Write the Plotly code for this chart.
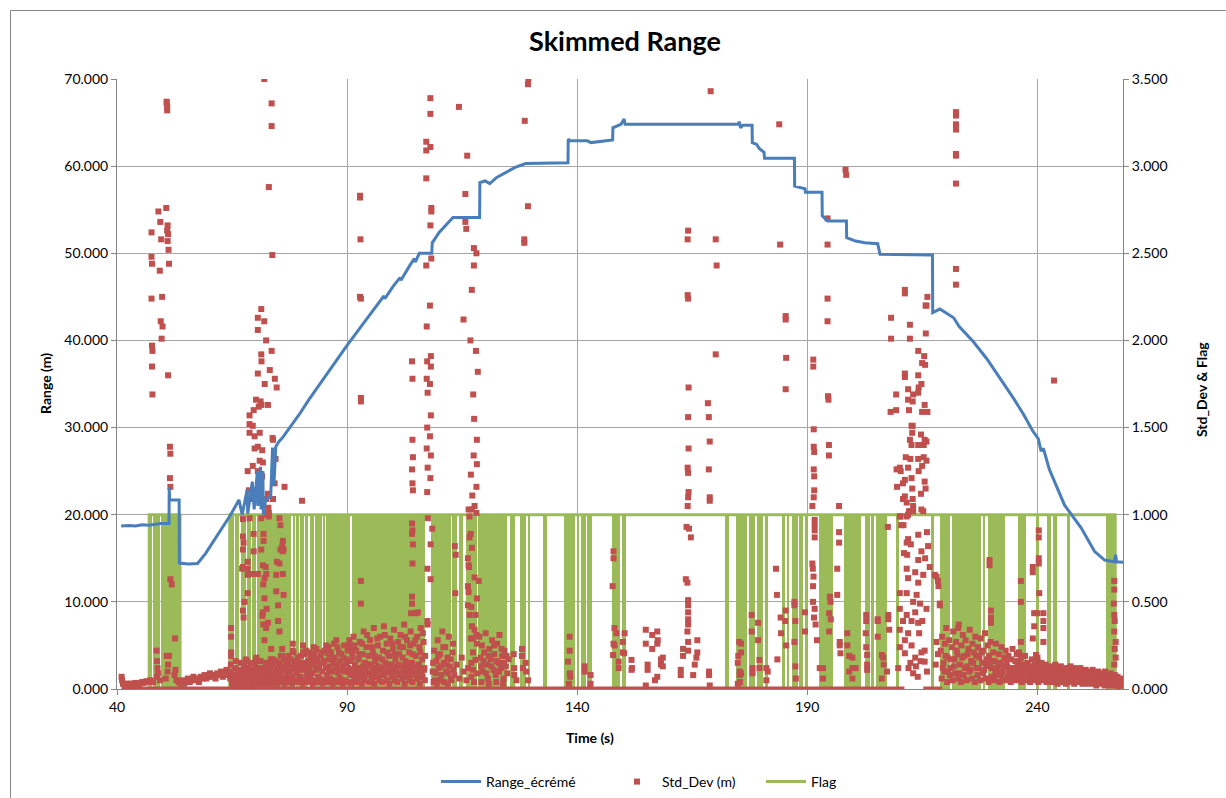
import plotly.graph_objects as go

# ---------------- data ----------------
TITLE = "Skimmed Range"
X_TICKS = [40, 90, 140, 190, 240]
X_RANGE = [40, 258.6]
RANGE_AXIS = [0, 70]
STD_AXIS = [0, 3.5]

# Range_écrémé polyline vertices (time s, range m)
RANGE_POINTS = [
    (40.9, 18.70), (42.5, 18.75), (44.0, 18.70), (45.5, 18.85), (47.0, 18.80), (48.5, 18.90),
    (49.5, 19.00), (51.3, 19.00), (51.35, 23.10), (51.45, 21.70), (53.5, 21.70), (53.55, 14.45),
    (55.5, 14.35), (57.5, 14.40), (59.3, 15.60), (62.2, 17.90), (64.7, 20.00), (66.5, 21.70),
    (67.2, 20.00), (68.3, 22.90), (68.4, 20.10), (69.4, 23.80), (69.8, 20.60), (70.5, 25.00),
    (70.6, 21.00), (71.2, 25.50), (71.3, 20.60), (71.7, 25.00), (71.8, 20.00), (72.3, 21.70),
    (73.4, 22.10), (73.8, 27.70), (74.1, 23.40), (74.5, 27.80), (75.2, 28.40), (75.9, 28.80),
    (77.4, 29.85), (79.6, 31.50), (81.7, 33.20), (85.0, 35.70), (89.8, 39.30), (95.0, 43.00),
    (98.0, 45.10), (98.2, 44.80), (100.0, 46.20), (101.5, 47.20), (101.7, 46.90), (103.5, 48.50),
    (104.6, 49.40), (104.8, 49.00), (105.7, 50.00), (108.4, 50.00), (108.5, 51.20), (110.0, 52.40),
    (111.6, 53.30), (113.0, 54.10), (118.8, 54.10), (118.85, 58.10), (120.0, 58.30), (121.0, 58.00),
    (122.5, 58.70), (124.7, 59.30), (126.5, 59.85), (128.8, 60.30), (138.0, 60.40), (138.05, 63.10),
    (138.5, 62.90), (142.2, 62.90), (143.0, 62.70), (147.7, 63.00), (147.75, 64.40), (149.5, 64.80),
    (150.2, 65.40), (150.4, 64.80), (175.0, 64.80), (175.2, 65.10), (175.5, 64.40), (176.0, 64.70),
    (178.0, 64.70), (178.05, 62.70), (179.0, 62.50), (179.6, 62.00), (180.6, 61.60), (180.7, 60.90),
    (187.2, 60.90), (187.25, 57.70), (189.5, 57.40), (189.6, 57.00), (193.2, 57.00), (193.25, 54.30),
    (194.4, 53.70), (198.5, 53.70), (198.55, 51.80), (200.5, 51.40), (202.5, 51.20), (205.3, 51.10),
    (205.8, 49.90), (217.2, 49.80), (217.25, 43.20), (218.8, 43.60), (220.5, 43.00), (221.8, 42.60),
    (223.0, 41.60), (226.0, 39.90), (229.0, 37.90), (232.0, 35.60), (235.0, 33.20), (237.0, 31.50),
    (239.0, 29.60), (240.2, 28.70), (240.8, 27.30), (241.3, 27.60), (242.6, 25.20), (245.9, 21.10),
    (249.5, 18.50), (252.4, 15.80), (254.6, 14.80), (256.7, 14.60), (257.0, 15.40), (257.2, 14.60),
    (258.9, 14.55),
]

# Flag: steady state changes (time, value)
FLAG_CHANGES = [(41.0, 0), (47.0, 1), (53.7, 0), (64.5, 1), (256.9, 0), (258.9, 0)]

# Flag: periods of rapid 0/1 toggling (start, end)
FLAG_TOGGLE_BLOCKS = [
    (47.0, 47.6), (47.8, 49.3), (49.6, 53.7),
    (64.5, 65.4), (65.7, 66.6), (66.9, 68.0), (68.3, 69.1), (69.4, 70.2), (70.5, 77.9),
    (78.2, 78.7), (79.0, 79.5), (79.8, 80.6), (80.9, 81.6), (81.9, 82.7), (83.0, 84.5),
    (84.8, 85.1), (85.4, 90.7), (91.0, 107.0), (108.2, 112.5), (112.9, 113.8), (114.3, 115.1),
    (115.8, 118.2), (118.5, 124.8), (125.4, 126.5), (127.5, 128.8), (129.4, 129.8), (132.6, 133.4),
    (137.2, 139.5), (139.9, 140.4), (140.9, 141.9), (142.2, 143.3), (147.5, 149.3), (149.7, 150.6),
    (172.2, 172.9), (174.6, 177.0), (177.4, 178.7), (179.1, 180.3), (180.7, 181.5), (184.6, 185.1),
    (185.5, 186.1), (186.6, 187.9), (188.3, 189.0), (189.5, 190.1), (192.6, 195.5), (198.0, 201.7),
    (202.5, 203.6), (203.8, 204.6), (205.0, 205.7), (205.9, 207.4), (209.3, 210.0), (216.9, 217.6),
    (218.8, 220.9), (221.4, 227.7), (228.1, 228.6), (229.2, 233.0), (235.7, 237.5), (239.7, 240.4),
    (242.1, 243.0), (243.3, 244.3), (246.4, 247.0), (254.9, 256.9),
]

# Std_Dev samples that sit exactly at 0 (runs of time)
STD_ZERO_RUNS = [(41.0, 211.1), (215.2, 219.3)]

# Std_Dev (m) samples (time, value)
STD_START = [
    (41.0, .07), (41.1, .05), (41.3, .03), (41.6, .03), (41.9, .025), (42.2, .03), (42.5, .025),
    (42.8, .03), (43.1, .03), (43.4, .02), (43.7, .03), (44.0, .035), (44.3, .03), (44.6, .025),
    (44.9, .03), (45.2, .035), (45.5, .04), (45.8, .035), (46.1, .04), (46.4, .045), (46.7, .04),
    (47.5, 2.62), (47.5, 2.48), (47.6, 2.44), (47.5, 2.24), (47.6, 1.97), (47.7, 1.94), (47.6, 1.85),
    (47.7, 1.69), (49.0, 2.74), (49.4, 2.68), (49.6, 2.58), (49.3, 2.40), (49.8, 2.25), (49.5, 2.11),
    (49.9, 2.08), (49.7, 2.01), (50.8, 3.37), (50.8, 3.36), (50.9, 3.34), (50.9, 3.32), (50.7, 2.76),
    (51.0, 2.66), (50.9, 2.63), (51.1, 2.61), (51.0, 2.57), (51.2, 2.52), (51.3, 2.44), (51.1, 1.80),
    (51.5, 1.39), (51.6, 1.35), (51.5, 1.21), (51.6, 1.16), (51.6, 0.63), (51.9, 0.60), (52.6, 0.29),
    (52.5, 0.08), (48.6, 0.22), (48.7, 0.16), (48.8, 0.12), (48.9, 0.09), (48.7, 0.07), (50.8, 0.19),
    (51.3, 0.19), (51.1, 0.14), (51.0, 0.10), (50.6, 0.06), (49.3, 0.05), (52.7, 0.11), (52.9, 0.05),
    (47.2, 0.05), (47.8, 0.04), (53.4, 0.04),
    (53.8, .03), (54.2, .05), (54.6, .03), (55.0, .04), (55.4, .06), (55.8, .04), (56.2, .05),
    (56.6, .07), (57.0, .05), (57.4, .06), (57.8, .04), (58.2, .07), (58.6, .06), (59.0, .08),
    (59.4, .06), (59.8, .07), (60.2, .09), (60.6, .07), (61.0, .08), (61.4, .06), (61.8, .09),
    (62.2, .08), (62.6, .10), (63.0, .07), (63.4, .09), (63.8, .11), (64.2, .08),
]

STD_SPIKE_72 = [
    (72.0, 3.50), (73.6, 3.36), (73.6, 3.23), (73.0, 2.88), (73.75, 2.49), (71.35, 2.18), (70.6, 2.13),
    (72.0, 2.11), (70.6, 2.06), (72.4, 2.00), (71.35, 1.92), (73.6, 1.94), (71.4, 1.88), (73.2, 1.83),
    (70.6, 1.81), (72.1, 1.75), (74.3, 1.78), (74.7, 1.73), (70.2, 1.66), (71.4, 1.63), (72.8, 1.63),
    (68.8, 1.57), (69.7, 1.60), (70.8, 1.62), (71.2, 1.65), (68.8, 1.52), (69.5, 1.51), (68.8, 1.47),
    (71.0, 1.47), (69.9, 1.45), (70.6, 1.39), (69.9, 1.38), (71.55, 1.37), (71.0, 1.31), (71.7, 1.30),
    (69.5, 1.28), (68.4, 1.25), (70.6, 1.25), (71.55, 1.22), (68.65, 1.14), (69.9, 1.14), (71.0, 1.15),
    (72.8, 1.12), (68.4, 1.09), (69.5, 1.09), (72.45, 1.09), (73.9, 1.09), (74.45, 1.32), (73.9, 1.43),
    (73.8, 1.44), (74.25, 1.18), (76.4, 1.16), (80.2, 1.08), (72.8, 1.01), (67.35, 0.975),
    (68.8, 0.98), (71.35, 0.98), (73.0, 0.99), (75.3, 0.98), (67.35, 0.875), (67.5, 0.84), (69.7, 0.89),
    (71.85, 0.89), (67.35, 0.80), (69.7, 0.79), (71.85, 0.85), (76.05, 0.85), (76.2, 0.80), (68.4, 0.73),
    (68.4, 0.69), (71.7, 0.71), (72.3, 0.70), (74.75, 0.73), (75.3, 0.72), (67.2, 0.69), (68.8, 0.66),
    (69.9, 0.66), (70.6, 0.66), (72.45, 0.66), (74.6, 0.655), (76.05, 0.66), (67.35, 0.70),
    (68.4, 0.655), (68.4, 0.55), (67.7, 0.50), (67.35, 0.45), (67.5, 0.41), (64.8, 0.35), (64.8, 0.30),
    (64.8, 0.21), (64.8, 0.19), (71.35, 0.80), (72.05, 0.636), (71.8, 0.60), (72.05, 0.52), (71.7, 0.44),
    (71.6, 0.42), (72.5, 0.46), (72.8, 0.38), (71.8, 0.37), (72.4, 0.35), (72.05, 0.28), (73.0, 1.01),
    (72.9, 1.04), (72.6, 1.00), (75.5, 0.94), (75.9, 0.82), (75.5, 0.80), (76.0, 0.79), (74.6, 0.56),
    (76.2, 0.54), (75.0, 0.48), (75.0, 0.39), (75.3, 0.33), (73.5, 0.23), (75.9, 0.23), (76.0, 0.19),
    (73.9, 0.17), (73.5, 0.16), (67.0, 0.15), (68.2, 0.16), (70.3, 0.18), (70.4, 0.16), (78.2, 0.26),
    (78.2, 0.22), (80.4, 0.25), (80.4, 0.21), (81.85, 0.21), (83.3, 0.23), (85.8, 0.205), (86.0, 0.24),
    (87.65, 0.28), (90.5, 0.28), (90.7, 0.24), (91.0, 0.23),
    (92.8, 2.83), (92.8, 2.82), (92.9, 2.58), (92.8, 2.25), (93.0, 2.24), (93.0, 1.67), (93.0, 1.65),
    (93.0, 0.62), (93.0, 0.49),
]

STD_BAND_65_90 = [
    (64.6, .06), (64.9, .10), (65.1, .04), (65.4, .08), (65.7, .12), (65.9, .05), (66.2, .09),
    (66.5, .07), (66.8, .11), (67.0, .05), (67.3, .09), (67.6, .13), (67.8, .06), (68.1, .10),
    (68.4, .08), (68.6, .12), (68.9, .05), (69.2, .09), (69.5, .11), (69.7, .07), (70.0, .13),
    (70.3, .09), (70.5, .06), (70.8, .11), (71.1, .08), (71.4, .12), (71.6, .05), (71.9, .10),
    (72.2, .07), (72.5, .13), (72.7, .09), (73.0, .06), (73.3, .11), (73.6, .08), (73.8, .14),
    (74.1, .06), (74.4, .10), (74.7, .12), (74.9, .07), (75.2, .15), (75.5, .09), (75.8, .12),
    (76.0, .06), (76.3, .17), (76.6, .11), (76.9, .08), (77.1, .14), (77.4, .19), (77.7, .10),
    (78.0, .13), (78.2, .07), (78.5, .16), (78.8, .12), (79.1, .09), (79.3, .18), (79.6, .13),
    (79.9, .07), (80.2, .15), (80.4, .11), (80.7, .20), (81.0, .13), (81.3, .08), (81.5, .16),
    (81.8, .12), (82.1, .18), (82.4, .09), (82.6, .14), (82.9, .20), (83.2, .11), (83.5, .16),
    (83.7, .07), (84.0, .13), (84.3, .19), (84.6, .10), (84.8, .15), (85.1, .22), (85.4, .12),
    (85.7, .08), (85.9, .17), (86.2, .13), (86.5, .21), (86.8, .10), (87.0, .15), (87.3, .18),
    (87.6, .12), (87.9, .24), (88.1, .09), (88.4, .16), (88.7, .20), (89.0, .13), (89.2, .18),
    (89.5, .10), (89.8, .15), (90.1, .22),
    (65.0, .03), (65.5, .02), (66.0, .03), (66.6, .02), (67.1, .03), (67.7, .02), (68.3, .04),
    (68.8, .03), (69.4, .02), (69.9, .04), (70.4, .03), (71.0, .05), (71.5, .03), (72.0, .04),
    (72.6, .03), (73.1, .05), (73.7, .03), (74.2, .04), (74.8, .03), (75.3, .05), (75.9, .04),
    (76.4, .03), (77.0, .05), (77.5, .04), (78.1, .03), (78.6, .05), (79.2, .04), (79.7, .06),
    (80.3, .03), (80.8, .05), (81.4, .04), (81.9, .06), (82.5, .03), (83.0, .05), (83.6, .04),
    (84.1, .06), (84.7, .03), (85.2, .05), (85.8, .04), (86.3, .06), (86.9, .03), (87.4, .05),
    (88.0, .04), (88.5, .06), (89.1, .03), (89.6, .05),
    (64.75, .14), (65.25, .07), (65.8, .16), (66.35, .10), (66.9, .15), (67.45, .08), (68.0, .17),
    (68.55, .11), (69.05, .15), (69.6, .09), (70.15, .17), (70.65, .12), (71.2, .16), (71.75, .09),
    (72.3, .15), (72.85, .12), (73.4, .17), (73.95, .10), (74.5, .16), (75.05, .11), (75.6, .19),
    (76.15, .13), (76.7, .16), (77.25, .10), (77.8, .17), (78.35, .21), (78.9, .15), (79.45, .11),
    (80.0, .19), (80.55, .14), (81.1, .22), (81.65, .10), (82.2, .15), (82.75, .24), (83.3, .17),
    (83.85, .12), (84.4, .21), (84.95, .16), (85.5, .25), (86.05, .11), (86.6, .18), (87.15, .26),
    (87.7, .14), (88.25, .21), (88.8, .11), (89.35, .25), (89.9, .17),
]

STD_BAND_90_107 = [
    (90.3, .12), (90.6, .25), (90.9, .08), (91.2, .18), (91.4, .30), (91.7, .14), (92.0, .22),
    (92.3, .06), (92.5, .17), (92.8, .27), (93.1, .11), (93.4, .20), (93.6, .33), (93.9, .15),
    (94.2, .24), (94.5, .09), (94.7, .19), (95.0, .28), (95.3, .13), (95.6, .21), (95.8, .35),
    (96.1, .16), (96.4, .07), (96.7, .25), (96.9, .18), (97.2, .30), (97.5, .12), (97.8, .22),
    (98.0, .36), (98.3, .15), (98.6, .26), (98.9, .10), (99.1, .19), (99.4, .29), (99.7, .14),
    (100.0, .23), (100.2, .34), (100.5, .17), (100.8, .08), (101.1, .27), (101.3, .20), (101.6, .31),
    (101.9, .13), (102.2, .24), (102.4, .37), (102.7, .16), (103.0, .28), (103.3, .11), (103.5, .21),
    (103.8, .33), (104.1, .15), (104.4, .26), (104.6, .09), (104.9, .19), (105.2, .30), (105.5, .14),
    (105.7, .24), (106.0, .35), (106.3, .17), (106.6, .27), (106.8, .12),
    (90.4, .04), (90.9, .03), (91.5, .06), (92.0, .04), (92.6, .07), (93.2, .03), (93.7, .05),
    (94.3, .08), (94.8, .04), (95.4, .06), (95.9, .03), (96.5, .07), (97.0, .05), (97.6, .04),
    (98.1, .08), (98.7, .05), (99.2, .03), (99.8, .07), (100.3, .05), (100.9, .04), (101.4, .08),
    (102.0, .06), (102.5, .03), (103.1, .07), (103.6, .05), (104.2, .04), (104.7, .08), (105.3, .06),
    (105.8, .03), (106.4, .07), (106.9, .05),
    (90.75, .16), (91.05, .21), (91.6, .25), (92.15, .12), (92.7, .20), (93.25, .26), (93.8, .10),
    (94.35, .31), (94.9, .14), (95.45, .24), (96.0, .19), (96.55, .29), (97.1, .10), (97.65, .17),
    (98.2, .31), (98.75, .21), (99.3, .12), (99.85, .26), (100.4, .20), (100.95, .13), (101.5, .24),
    (102.05, .18), (102.6, .30), (103.15, .15), (103.7, .25), (104.25, .20), (104.8, .28), (105.35, .11),
    (105.9, .21), (106.45, .32), (106.95, .19),
    (90.55, .09), (91.1, .11), (91.85, .09), (92.4, .12), (93.0, .08), (93.5, .13), (94.05, .11),
    (94.6, .14), (95.15, .09), (95.7, .12), (96.25, .10), (96.8, .13), (97.35, .08), (97.9, .12),
    (98.45, .10), (99.0, .14), (99.55, .09), (100.1, .12), (100.65, .11), (101.2, .14), (101.75, .09),
    (102.3, .12), (102.85, .10), (103.4, .14), (103.95, .08), (104.5, .12), (105.05, .10), (105.6, .13),
    (106.15, .09), (106.7, .11),
    (104.1, 0.89), (104.1, 0.53), (104.1, 0.49), (103.9, 0.435), (105.0, 0.435), (105.4, 0.44),
    (104.1, 1.88), (104.2, 1.78), (104.2, 1.43), (104.3, 1.33), (104.1, 1.26), (104.2, 1.18),
    (104.3, 1.14), (104.1, 0.95), (104.2, 0.91), (104.3, 0.83), (104.2, 0.72),
]

STD_SPIKE_108_118 = [
    (108.1, 3.39), (108.1, 3.30), (107.2, 3.14), (108.1, 3.11), (107.2, 3.09), (107.2, 2.93),
    (108.3, 2.76), (108.3, 2.74), (108.1, 2.66), (108.3, 2.47), (107.2, 2.43), (108.0, 2.20),
    (107.3, 2.08), (108.2, 1.91), (107.4, 1.88), (108.2, 1.85), (107.3, 1.78), (108.0, 1.75),
    (107.5, 1.70), (108.2, 1.57), (107.4, 1.50), (108.0, 1.45), (107.3, 1.38), (108.2, 1.34),
    (107.5, 1.27), (108.1, 1.21), (107.4, 1.13), (107.55, 0.98), (108.5, 0.92), (108.15, 0.83),
    (107.45, 0.69), (108.15, 0.63), (107.45, 0.39), (107.5, 0.37),
    (113.4, 0.82), (113.6, 0.77), (113.5, 0.55),
    (114.3, 3.34), (116.1, 3.06), (115.7, 2.84), (115.7, 2.68), (115.9, 2.64), (117.55, 2.53),
    (118.1, 2.50), (117.55, 2.43), (117.1, 2.29), (115.3, 2.12), (116.8, 2.00), (118.0, 1.94),
    (118.4, 1.82), (117.4, 1.69), (117.6, 1.55), (118.2, 1.43), (117.5, 1.34), (118.2, 1.29),
    (116.9, 1.23), (118.1, 1.16), (117.2, 1.11), (116.4, 1.03), (117.1, 1.03), (118.1, 1.01),
    (117.7, 1.05), (116.6, 0.99), (116.85, 0.89), (116.6, 0.87), (117.1, 0.81), (116.25, 0.75),
    (116.4, 0.71), (116.5, 0.70), (117.7, 0.64), (118.6, 0.62), (116.25, 0.59), (116.4, 0.556),
    (118.2, 0.52), (116.25, 0.48), (117.0, 0.47), (116.6, 0.425), (117.9, 0.425), (117.1, 0.36),
    (117.7, 0.34), (118.1, 0.31), (116.85, 0.29), (117.3, 0.29), (118.2, 0.26), (117.35, 0.21),
    (117.9, 0.167), (117.0, 0.15), (117.35, 0.11),
    (128.6, 3.26), (129.4, 3.50), (129.3, 3.47), (129.3, 2.77), (128.5, 2.58), (128.5, 2.56),
]

STD_BAND_108_131 = [
    (108.6, .10), (108.9, .22), (109.1, .05), (109.4, .16), (109.7, .28), (109.9, .12), (110.2, .20),
    (110.5, .08), (110.7, .33), (111.0, .15), (111.3, .24), (111.5, .10), (111.8, .18), (112.1, .30),
    (112.3, .13), (112.6, .06), (112.9, .21), (113.1, .11), (108.8, .04), (109.5, .03), (110.3, .05),
    (111.1, .04), (111.9, .03), (112.7, .05),
    (108.7, .15), (109.25, .09), (109.8, .19), (110.35, .13), (110.9, .24), (111.45, .14), (112.0, .09),
    (112.5, .17), (113.0, .26),
    (113.3, .08), (113.8, .14), (114.4, .06), (114.9, .18), (115.3, .10), (115.9, .05), (116.3, .12),
    (117.0, .07), (117.6, .04), (118.3, .09),
    (118.7, .30), (119.0, .18), (119.3, .25), (119.5, .10), (119.8, .21), (120.1, .32), (120.4, .14),
    (120.6, .06), (120.9, .23), (121.2, .17), (121.5, .28), (121.8, .11), (122.0, .20), (122.3, .08),
    (122.6, .26), (122.9, .15), (123.1, .31), (123.4, .12), (123.7, .19), (124.0, .06), (124.2, .22),
    (124.5, .13), (124.8, .09), (125.1, .17), (119.2, .04), (120.8, .03), (122.4, .04), (123.9, .03),
    (119.15, .13), (119.65, .16), (120.25, .09), (120.75, .19), (121.35, .13), (121.95, .25),
    (122.5, .16), (123.0, .10), (123.55, .23), (124.1, .15), (124.65, .19),
    (126.2, 0.20), (126.3, 0.12), (126.3, 0.08), (128.0, 0.23), (128.0, 0.19), (128.2, 0.12),
    (128.8, 0.15), (128.9, 0.10), (129.3, 0.05), (126.8, 0.05),
]

STD_MIDDLE = [
    (138.35, 0.30), (138.35, 0.22), (138.0, 0.157), (138.4, 0.09), (138.5, 0.07), (138.2, 0.03),
    (141.6, 0.13), (141.6, 0.10), (142.9, 0.08), (142.9, 0.03), (148.1, 0.35), (148.5, 0.32),
    (148.1, 0.25), (150.3, 0.32), (150.2, 0.205), (149.0, 0.157), (149.0, 0.12), (147.8, 0.195),
    (147.9, 0.26), (151.8, 0.167), (151.8, 0.11), (147.9, 0.79), (147.9, 0.75), (147.7, 0.59),
    (149.95, 0.27), (149.95, 0.21), (151.9, 0.12),
    (154.9, 0.34), (154.9, 0.26), (156.3, 0.31), (156.3, 0.23), (157.4, 0.33), (157.5, 0.28),
    (157.4, 0.26), (158.2, 0.17), (158.2, 0.14), (155.3, 0.14), (155.3, 0.11), (157.4, 0.07),
    (156.9, 0.05), (154.9, 0.02), (158.6, 0.18), (158.6, 0.13),
    (164.1, 2.63), (164.0, 2.58), (164.0, 2.26), (164.1, 2.24), (164.2, 1.73), (164.1, 1.56),
    (164.2, 1.38), (164.0, 1.27), (164.1, 1.24), (164.2, 1.13), (164.1, 1.10), (164.0, 1.05),
    (163.75, 0.93), (164.3, 0.92), (164.7, 0.87), (163.95, 0.61), (164.1, 0.51), (164.1, 0.48),
    (164.1, 0.44), (164.1, 0.40), (164.1, 0.37), (163.95, 0.33), (164.1, 0.27), (163.0, 0.23),
    (164.1, 0.22), (163.0, 0.19), (166.1, 0.28), (166.1, 0.21), (165.9, 0.18), (165.55, 0.14),
    (162.5, 0.11), (162.5, 0.08), (165.2, 0.08), (163.6, 0.63),
    (169.0, 3.43), (170.1, 2.58), (170.3, 2.43), (170.1, 1.92), (168.4, 1.64), (168.6, 1.56),
    (168.8, 1.42), (168.6, 1.26), (168.8, 1.10), (168.8, 1.08), (168.65, 0.10), (168.65, 0.08),
    (168.8, 0.02),
    (175.6, 0.26), (175.2, 0.27), (175.6, 0.21), (175.0, 0.19), (174.9, 0.15), (175.3, 0.10),
    (175.3, 0.08), (174.9, 0.03), (175.6, 0.09), (175.4, 0.04),
    (177.9, 0.425), (177.9, 0.33), (179.3, 0.38), (179.3, 0.28), (179.6, 0.167), (179.6, 0.12),
    (178.1, 0.12), (178.1, 0.09), (181.1, 0.12), (181.4, 0.10), (181.1, 0.05),
    (183.2, 0.69), (183.4, 0.54), (184.2, 0.41), (184.3, 0.32), (183.5, 0.17), (185.3, 0.45),
    (185.2, 0.39), (187.2, 0.50), (187.2, 0.48), (187.4, 0.39), (187.2, 0.27), (185.4, 0.25),
    (187.4, 0.13), (187.5, 0.06), (183.9, 3.24), (184.1, 2.55), (185.3, 2.14), (185.3, 2.12),
    (185.4, 1.90), (185.3, 1.72),
    (189.5, 0.44), (189.5, 0.33), (191.1, 1.05), (191.6, 0.97), (191.6, 0.94), (191.6, 0.91),
    (191.6, 0.87), (191.1, 0.72), (191.2, 0.69), (191.35, 0.645), (191.25, 0.59), (191.25, 0.50),
    (191.6, 0.46), (191.45, 0.41), (191.8, 0.37), (192.1, 0.28), (192.7, 0.12), (193.4, 0.12),
    (193.4, 0.06), (191.3, 1.89), (191.3, 1.85), (191.4, 1.49), (191.4, 1.39), (191.5, 1.36),
    (191.4, 1.26), (191.5, 1.22), (191.5, 1.14), (191.4, 1.10),
    (194.4, 2.70), (194.4, 2.55), (194.4, 2.24), (194.4, 2.11), (194.5, 1.68), (194.6, 1.66),
    (194.7, 1.40), (194.7, 1.34), (194.9, 0.53), (195.05, 0.50), (194.75, 0.435), (195.1, 0.40),
    (194.75, 0.33), (196.5, 0.69), (196.5, 0.54), (196.9, 0.90), (196.9, 0.84), (196.9, 1.05),
    (197.05, 0.27), (197.05, 0.25), (197.2, 0.205),
    (198.3, 2.98), (198.45, 2.95), (198.7, 0.32), (198.7, 0.25), (199.1, 0.19), (199.8, 0.18),
    (199.8, 0.12), (200.5, 0.12), (199.1, 0.10), (199.8, 0.06), (202.8, 0.425), (202.8, 0.39),
    (202.7, 0.32), (202.8, 0.24), (203.0, 0.195), (203.0, 0.14), (203.0, 0.11), (205.3, 0.39),
    (205.3, 0.30),
    (205.3, 0.40), (207.6, 0.425), (207.6, 0.40), (207.8, 0.34), (206.2, 0.195), (206.5, 0.18),
    (206.6, 0.14), (207.3, 0.10), (206.2, 0.06), (207.5, 0.93), (208.2, 2.13), (208.2, 2.01),
    (208.1, 1.59), (209.3, 1.69), (209.3, 1.60), (209.4, 1.26), (209.5, 1.16),
]

STD_CLUSTER_212 = [
    (211.2, 2.29), (211.2, 2.27), (216.1, 2.25), (215.7, 2.20), (215.9, 2.20), (212.3, 2.09),
    (212.3, 2.01), (215.75, 2.04), (214.1, 1.94), (215.4, 1.91), (214.95, 1.87), (215.6, 1.86),
    (211.2, 1.81), (211.2, 1.79), (214.1, 1.80), (214.8, 1.75), (211.9, 1.72), (214.2, 1.73),
    (213.0, 1.69), (214.1, 1.70), (211.9, 1.66), (212.9, 1.65), (215.5, 1.63), (212.1, 1.60),
    (214.95, 1.59), (216.1, 1.59), (212.65, 1.51), (212.9, 1.51), (212.8, 1.47), (214.7, 1.46),
    (212.3, 1.43), (215.5, 1.43), (215.9, 1.42), (212.65, 1.40), (214.1, 1.40), (215.3, 1.40),
    (211.4, 1.33), (212.4, 1.32), (214.1, 1.32), (215.3, 1.33), (215.9, 1.31), (214.95, 1.28),
    (210.1, 1.27), (210.3, 1.25), (211.9, 1.27), (214.2, 1.25), (211.2, 1.20), (210.8, 1.18),
    (212.65, 1.21), (215.5, 1.19), (212.8, 1.15), (214.7, 1.12), (215.7, 1.15), (211.2, 1.105),
    (210.8, 1.09), (212.9, 1.09), (211.6, 1.07), (213.0, 1.05), (214.8, 1.03), (212.1, 1.02),
    (212.5, 1.02), (210.25, 0.99), (211.6, 0.99), (210.1, 0.99), (211.9, 1.00), (213.0, 1.02),
    (215.2, 1.02), (210.4, 0.94), (210.9, 0.94), (216.0, 0.90), (214.1, 0.885), (211.9, 0.86),
    (211.6, 0.84), (212.5, 0.83), (216.25, 0.82), (211.0, 0.78), (211.7, 0.77), (214.8, 0.79),
    (214.1, 0.74), (215.6, 0.75), (216.6, 0.70), (211.6, 0.69), (213.45, 0.67), (215.2, 0.655),
    (211.9, 0.636), (214.1, 0.61), (210.1, 0.55), (211.6, 0.55), (213.75, 0.54), (213.0, 0.50),
    (214.5, 0.49), (210.1, 0.46), (215.9, 0.46), (211.6, 0.425), (213.45, 0.44), (210.8, 0.39),
    (212.65, 0.39), (214.1, 0.38), (215.0, 0.39), (210.1, 0.34), (211.9, 0.32), (214.3, 0.32),
    (211.2, 0.28), (210.1, 0.24), (212.65, 0.25), (214.8, 0.21), (215.5, 0.22), (211.2, 0.205),
    (213.45, 0.18), (209.75, 0.12), (215.5, 0.157), (212.0, 0.12), (213.0, 0.09), (214.0, 0.07),
    (216.0, 0.10), (212.4, 0.15), (213.6, 0.13), (214.6, 0.16),
    (217.7, 0.655), (218.4, 0.62), (218.5, 0.59), (218.8, 0.48), (218.1, 0.27), (218.4, 0.20),
    (217.9, 0.14), (218.1, 0.645),
]

STD_BAND_218_258 = [
    (219.0, .22), (219.3, .30), (219.6, .15), (219.9, .26), (220.2, .35), (220.5, .18), (220.8, .28),
    (221.1, .12), (221.4, .24), (221.7, .33), (222.0, .17), (222.3, .27), (222.6, .20), (222.9, .37),
    (223.2, .14), (223.5, .25), (223.8, .31), (224.1, .19), (224.4, .28), (224.7, .13), (225.0, .23),
    (225.3, .34), (225.6, .16), (225.9, .26), (226.2, .21), (226.5, .30), (226.8, .12), (227.1, .24),
    (227.4, .18), (227.7, .29), (228.0, .15), (228.3, .22), (228.6, .32), (228.9, .14), (229.2, .25),
    (229.5, .19), (229.8, .27), (230.1, .12), (230.4, .21), (230.7, .16), (231.0, .26), (231.3, .11),
    (231.6, .20), (231.9, .15), (232.2, .24), (232.5, .10), (232.8, .18), (233.1, .22), (233.4, .13),
    (233.7, .19), (234.0, .09), (234.3, .17), (234.6, .23), (234.9, .12), (235.2, .16), (235.5, .20),
    (235.8, .10), (236.1, .15), (236.4, .18), (236.7, .09), (237.0, .14), (237.3, .19), (237.6, .11),
    (237.9, .15), (238.2, .08), (238.5, .13), (238.8, .17), (239.1, .10), (239.4, .14), (239.7, .12),
    (240.0, .16), (240.3, .09), (240.6, .13), (240.9, .15), (241.2, .10), (241.5, .12), (241.8, .14),
    (242.1, .08), (242.4, .12), (242.7, .10), (243.0, .13), (243.3, .07), (243.6, .11), (243.9, .14),
    (244.2, .09), (244.5, .12), (244.8, .10), (245.1, .13), (245.4, .07), (245.7, .11), (246.0, .09),
    (246.3, .12), (246.6, .08), (246.9, .11), (247.2, .13), (247.5, .07), (247.8, .10), (248.1, .12),
    (248.4, .08), (248.7, .11), (249.0, .09), (249.3, .12), (249.6, .07), (249.9, .10), (250.2, .08),
    (250.5, .11), (250.8, .09), (251.1, .06), (251.4, .10), (251.7, .08), (252.0, .11), (252.3, .07),
    (252.6, .09), (252.9, .06), (253.2, .10), (253.5, .08), (253.8, .05), (254.1, .09), (254.4, .07),
    (254.7, .10), (255.0, .06), (255.3, .08), (255.6, .05), (255.9, .09), (256.2, .07), (256.5, .04),
    (256.8, .08), (257.1, .05), (257.4, .07), (257.7, .03), (258.0, .06), (258.3, .04),
    (219.2, .06), (219.8, .10), (220.4, .04), (221.0, .08), (221.6, .05), (222.2, .09), (222.8, .06),
    (223.4, .04), (224.0, .08), (224.6, .05), (225.2, .10), (225.8, .06), (226.4, .04), (227.0, .08),
    (227.6, .05), (228.2, .09), (228.8, .06), (229.4, .04), (230.0, .07), (230.6, .05), (231.2, .08),
    (231.8, .04), (232.4, .06), (233.0, .05), (233.6, .07), (234.2, .04), (234.8, .06), (235.4, .05),
    (236.0, .07), (236.6, .04), (237.2, .06), (237.8, .05), (238.4, .04), (239.0, .06), (239.6, .05),
    (240.2, .04), (240.8, .06), (241.4, .05), (242.0, .04), (242.6, .05), (243.2, .04), (243.8, .05),
    (244.4, .03), (245.0, .05), (245.6, .04), (246.2, .03), (246.8, .05), (247.4, .04), (248.0, .03),
    (248.6, .05), (249.2, .04), (249.8, .03), (250.4, .04), (251.0, .03), (251.6, .04), (252.2, .03),
    (252.8, .02), (253.4, .04), (254.0, .03), (254.6, .02), (255.2, .03), (255.8, .02), (256.4, .03),
    (257.0, .02), (257.6, .01), (258.2, .02),
    (219.45, .12), (220.05, .19), (220.65, .10), (221.25, .17), (221.85, .13), (222.45, .22),
    (223.05, .09), (223.65, .18), (224.25, .12), (224.85, .20), (225.45, .11), (226.05, .15),
    (226.65, .19), (227.25, .12), (227.85, .21), (228.45, .11), (229.05, .17), (229.65, .13),
    (230.25, .16), (230.85, .10), (231.45, .14), (232.05, .09), (232.65, .13), (233.25, .16),
    (233.85, .10), (234.45, .12), (235.05, .09), (235.65, .13), (236.25, .11), (236.85, .08),
    (237.45, .12), (238.05, .10), (238.65, .09), (239.25, .11), (239.85, .08), (240.45, .10),
    (241.05, .08), (241.65, .09), (242.25, .07), (242.85, .08), (243.45, .09), (244.05, .07),
    (244.65, .08), (245.25, .09), (245.85, .06), (246.45, .08), (247.05, .07), (247.65, .08),
    (248.25, .06), (248.85, .07), (249.45, .06), (250.05, .07), (250.65, .05), (251.25, .07),
    (251.85, .05), (252.45, .06), (253.05, .05), (253.65, .06), (254.25, .05), (254.85, .06),
    (255.45, .04), (256.05, .05), (256.65, .06), (257.25, .04), (257.85, .05),
]

STD_RIGHT_OUTLIERS = [
    (229.6, 0.74), (229.6, 0.71), (229.9, 0.45), (229.9, 0.41), (229.9, 0.38), (236.4, 0.62),
    (236.4, 0.50), (236.4, 0.27), (236.0, 0.21), (239.0, 0.70), (239.0, 0.67), (240.3, 0.91),
    (240.3, 0.87), (240.3, 0.75), (240.3, 0.72), (240.4, 0.55), (239.3, 0.435), (240.0, 0.435),
    (241.3, 0.435), (239.3, 0.36), (241.3, 0.39), (241.3, 0.35), (239.0, 0.29), (241.3, 0.27),
    (239.7, 0.195), (240.0, 0.18), (256.7, 0.62), (256.7, 0.57), (256.6, 0.49), (256.7, 0.425),
    (256.8, 0.39), (256.7, 0.33), (257.0, 0.27), (256.8, 0.23), (257.0, 0.18), (256.7, 0.14),
    (256.7, 0.08), (243.6, 1.77), (222.3, 3.31), (222.3, 3.29), (222.3, 3.24), (222.3, 3.21),
    (222.3, 3.07), (222.3, 3.06), (222.3, 2.90), (222.3, 2.41), (222.3, 2.32), (222.8, 0.35),
    (218.8, 0.49),
]

# ---------------- styling ----------------
BLUE = "#4A7EBB"
RED = "#C0504D"
GREEN = "#9BBB59"
GRID = "#A6A6A6"
AXIS = "#868686"
FONT = "Lato, 'Open Sans', sans-serif"

range_t = [p[0] for p in RANGE_POINTS]
range_v = [p[1] for p in RANGE_POINTS]

std_groups = [STD_START, STD_SPIKE_72, STD_BAND_65_90, STD_BAND_90_107, STD_SPIKE_108_118,
              STD_BAND_108_131, STD_MIDDLE, STD_CLUSTER_212, STD_BAND_218_258, STD_RIGHT_OUTLIERS]
std_t, std_v = [], []
for g in std_groups:
    for t, v in g:
        std_t.append(t)
        std_v.append(v)

zero_x, zero_y = [], []
for a, b in STD_ZERO_RUNS:
    zero_x += [a, b, None]
    zero_y += [0, 0, None]

block_mid = [(a + b) / 2 for a, b in FLAG_TOGGLE_BLOCKS]
block_w = [b - a for a, b in FLAG_TOGGLE_BLOCKS]
block_h = [1 for _ in FLAG_TOGGLE_BLOCKS]

fig = go.Figure()

# Flag toggling periods (on the Std_Dev & Flag axis)
fig.add_trace(go.Bar(
    x=block_mid, y=block_h, width=block_w, base=0, yaxis="y",
    marker=dict(color=GREEN, line=dict(width=0)), showlegend=False, hoverinfo="skip",
))
# Flag steady line
fig.add_trace(go.Scatter(
    x=[p[0] for p in FLAG_CHANGES], y=[p[1] for p in FLAG_CHANGES], yaxis="y",
    mode="lines", line=dict(color=GREEN, width=3, shape="hv"), name="Flag", legend="legend3",
))
# Std_Dev zero samples
fig.add_trace(go.Scatter(
    x=zero_x, y=zero_y, yaxis="y", mode="lines", line=dict(color=RED, width=5),
    showlegend=False, hoverinfo="skip",
))
# Std_Dev markers
fig.add_trace(go.Scatter(
    x=std_t, y=std_v, yaxis="y", mode="markers", name="Std_Dev (m)", legend="legend2",
    marker=dict(symbol="square", size=6, color=RED, line=dict(width=0)),
))
# Range line (left axis, drawn on top)
fig.add_trace(go.Scatter(
    x=range_t, y=range_v, yaxis="y2", mode="lines", name="Range_écrémé", legend="legend",
    line=dict(color=BLUE, width=3),
))

L, R, T, B = 117, 103, 79, 109
W, H = 1226, 798
pw = W - L - R
ph = H - T - B


def px_x(px):
    return (px - L) / pw


def px_y(py):
    return (H - B - py) / ph


def legend_box(left_px):
    return dict(orientation="h", x=px_x(left_px), xanchor="left", y=px_y(782), yanchor="middle",
                font=dict(size=14), bgcolor="rgba(0,0,0,0)", itemwidth=40)


fig.update_layout(
    width=W, height=H,
    margin=dict(l=L, r=R, t=T, b=B, autoexpand=False),
    paper_bgcolor="white", plot_bgcolor="white",
    font=dict(family=FONT, size=14, color="#000000"),
    barmode="overlay", bargap=0,
    showlegend=True,
    title=dict(text="<b>" + TITLE + "</b>", x=px_x(625), xref="paper", xanchor="center",
               y=1 - 42 / H, yref="container", yanchor="middle",
               font=dict(family=FONT, size=27, color="#000000")),
    xaxis=dict(range=X_RANGE, tickvals=X_TICKS, showgrid=True, gridcolor=GRID, gridwidth=1,
               showline=True, linecolor=AXIS, linewidth=1, ticks="outside", ticklen=5,
               tickcolor=AXIS, zeroline=False, tickfont=dict(size=14)),
    yaxis=dict(range=STD_AXIS, dtick=0.5, tick0=0, tickformat=".3f", side="right",
               showgrid=True, gridcolor=GRID, gridwidth=1, showline=True, linecolor=AXIS,
               ticks="outside", ticklen=5, tickcolor=AXIS, zeroline=False, tickfont=dict(size=14)),
    yaxis2=dict(range=RANGE_AXIS, dtick=10, tick0=0, tickformat=".3f", side="left",
                overlaying="y", showgrid=False, showline=True, linecolor=AXIS,
                ticks="outside", ticklen=5, tickcolor=AXIS, zeroline=False, tickfont=dict(size=14)),
    legend=legend_box(436),
    legend2=legend_box(612),
    legend3=legend_box(761),
    annotations=[
        dict(text="<b>Range (m)</b>", x=px_x(45), y=px_y(384), xref="paper", yref="paper",
             textangle=-90, showarrow=False, font=dict(size=14), xanchor="center", yanchor="middle"),
        dict(text="<b>Std_Dev & Flag</b>", x=px_x(1201), y=px_y(390), xref="paper", yref="paper",
             textangle=-90, showarrow=False, font=dict(size=14), xanchor="center", yanchor="middle"),
        dict(text="<b>Time (s)</b>", x=px_x(590), y=px_y(737), xref="paper", yref="paper",
             showarrow=False, font=dict(size=14), xanchor="center", yanchor="middle"),
    ],
    shapes=[
        dict(type="rect", xref="paper", yref="paper", x0=px_x(10.5), x1=px_x(1300),
             y0=px_y(900), y1=px_y(10.5), line=dict(color=AXIS, width=1), fillcolor="rgba(0,0,0,0)",
             layer="below"),
    ],
)

fig.write_html("out.html", config={"displayModeBar": False},
               post_script="document.body.style.margin='0px';")
